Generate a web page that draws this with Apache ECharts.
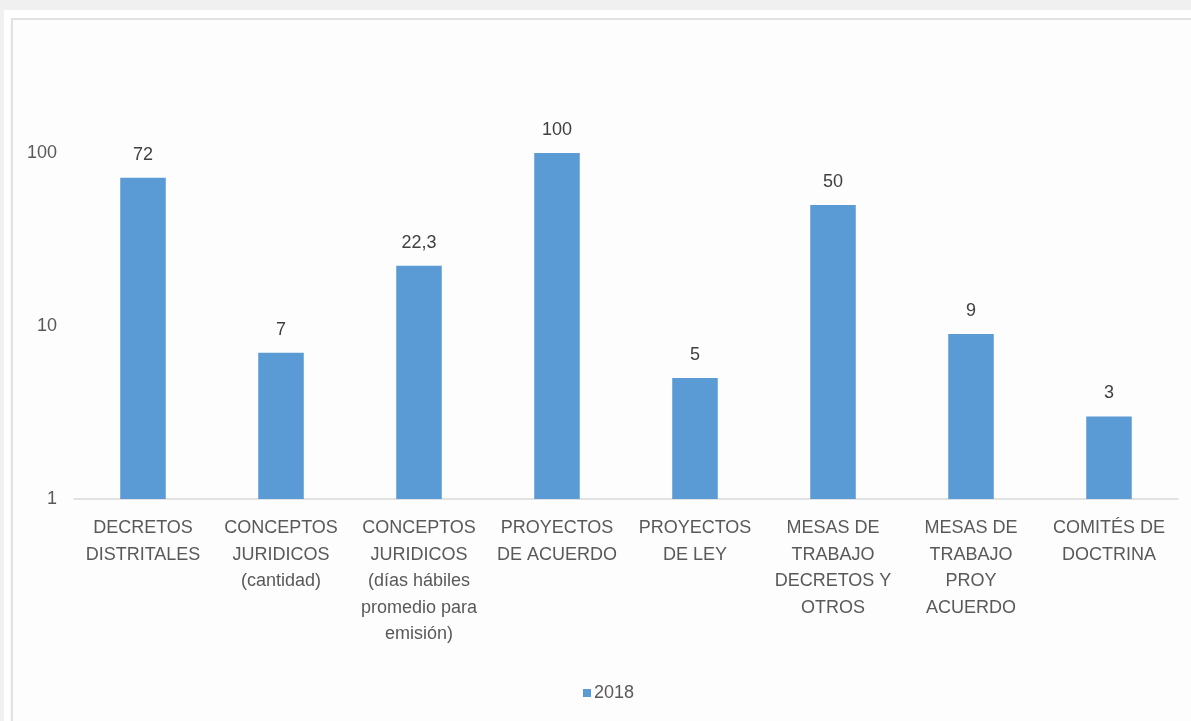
<!DOCTYPE html>
<html>
<head>
<meta charset="utf-8">
<script src="https://cdn.jsdelivr.net/npm/echarts@6/dist/echarts.min.js"></script>
<style>
html,body{margin:0;padding:0;width:1191px;height:721px;overflow:hidden;background:#f0f0f0;}
#outer{position:absolute;left:4px;top:10px;width:1187px;height:711px;background:#ffffff;}
#frame{position:absolute;left:11px;top:18px;width:1200px;height:720px;border-left:2px solid #e2e2e2;border-top:2px solid #e2e2e2;background:#fdfdfd;box-shadow:0 2px 3px rgba(0,0,0,0.06);}
#chart{position:absolute;left:0;top:0;width:1191px;height:721px;}
</style>
</head>
<body>
<div id="outer"></div>
<div id="frame"></div>
<div id="chart"></div>
<script>
const categories = [
  "DECRETOS\nDISTRITALES",
  "CONCEPTOS\nJURIDICOS\n(cantidad)",
  "CONCEPTOS\nJURIDICOS\n(días hábiles\npromedio para\nemisión)",
  "PROYECTOS\nDE ACUERDO",
  "PROYECTOS\nDE LEY",
  "MESAS DE\nTRABAJO\nDECRETOS Y\nOTROS",
  "MESAS DE\nTRABAJO\nPROY\nACUERDO",
  "COMITÉS DE\nDOCTRINA"
];
const seriesName = "2018";
const values2018 = [72, 7, 22.3, 100, 5, 50, 9, 3];
const yTicks = [1, 10, 100];

const chart = echarts.init(document.getElementById('chart'), null, {renderer: 'canvas'});
const font = '"Liberation Sans", Arial, sans-serif';
chart.setOption({
  backgroundColor: 'transparent',
  animation: false,
  grid: {left: 74, right: 13, top: 153, bottom: 222, containLabel: false},
  legend: {
    data: [seriesName],
    left: 578, top: 679,
    itemWidth: 8, itemHeight: 8, itemGap: 4,
    icon: 'rect',
    textStyle: {color: '#595959', fontSize: 18, fontFamily: font, padding: [0,0,0,-2]}
  },
  xAxis: {
    type: 'category',
    data: categories,
    axisLine: {show: true, lineStyle: {color: '#d9d9d9', width: 1.5}},
    axisTick: {show: false},
    axisLabel: {
      interval: 0, color: '#595959', fontSize: 18, fontFamily: font,
      lineHeight: 26.5, margin: 16
    }
  },
  yAxis: {
    type: 'log',
    logBase: 10,
    min: yTicks[0], max: yTicks[yTicks.length - 1],
    axisLine: {show: false},
    axisTick: {show: false},
    splitLine: {show: false},
    minorSplitLine: {show: false},
    axisLabel: {color: '#595959', fontSize: 18, fontFamily: font, margin: 17}
  },
  series: [{
    name: seriesName,
    type: 'bar',
    data: values2018,
    barWidth: '33%',
    itemStyle: {color: '#5b9bd5'},
    label: {
      show: true, position: 'top', distance: 14,
      color: '#404040', fontSize: 18, fontFamily: font,
      formatter: p => String(p.value).replace('.', ',')
    }
  }]
});
</script>
</body>
</html>
